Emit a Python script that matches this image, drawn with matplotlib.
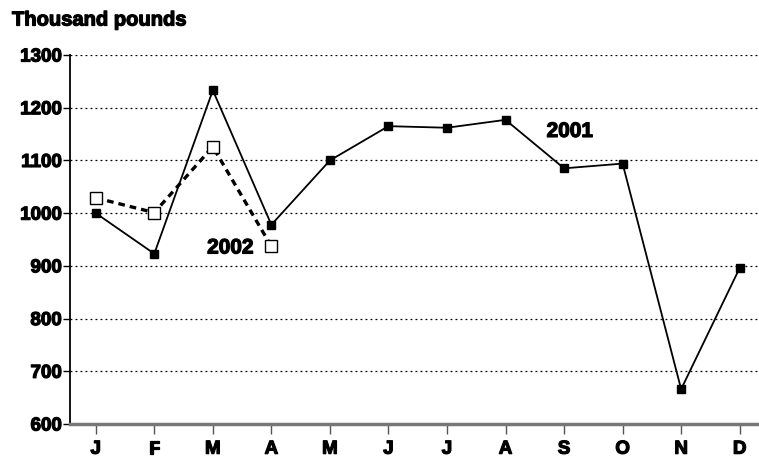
import matplotlib
matplotlib.use("Agg")
import matplotlib.pyplot as plt
import matplotlib.patheffects as pe
import numpy as np

plt.rcParams['font.family'] = ['Liberation Sans', 'DejaVu Sans']
plt.rcParams['font.weight'] = 'bold'

months = ['J', 'F', 'M', 'A', 'M', 'J', 'J', 'A', 'S', 'O', 'N', 'D']
sales_2001 = [1000, 923, 1233, 978, 1100, 1165, 1162, 1177, 1085, 1094, 666, 896]
sales_2002 = [1029, 1001, 1126, 937]
y_ticks = [600, 700, 800, 900, 1000, 1100, 1200, 1300]

heavy = [pe.withStroke(linewidth=0.9, foreground='black')]

fig = plt.figure(figsize=(7.59, 4.58), dpi=100)
ax = fig.add_axes([70/759, 1 - 424/458, 1 - 70/759, (424 - 55)/458])

x = np.arange(len(months))
ax.plot(x, sales_2001, color='black', lw=1.3, marker='s', markersize=6,
        markerfacecolor='black', zorder=3)
ax.plot(x[:len(sales_2002)], sales_2002, color='black', lw=2.4, ls=(0, (2, 1.5)),
        marker='s', markersize=9, markerfacecolor='white', markeredgewidth=1.0,
        zorder=4)

ax.text(8.1, 1155, '2001', fontsize=15, fontweight='bold', ha='center',
        va='center', path_effects=heavy)
ax.text(2.3, 934, '2002', fontsize=15, fontweight='bold', ha='center',
        va='center', path_effects=heavy)

ax.set_xlim(-0.44, 11.33)
ax.set_ylim(600, 1300)
ax.set_yticks(y_ticks)
ax.set_yticklabels([str(v) for v in y_ticks], fontsize=13.5, fontweight='bold')
ax.set_xticks(x)
ax.set_xticklabels(months, fontsize=13.5, fontweight='bold')
for lab in ax.get_xticklabels() + ax.get_yticklabels():
    lab.set_path_effects(heavy)
ax.tick_params(axis='x', length=7, width=1, pad=5, color='#555555')
ax.tick_params(axis='y', length=5, width=1, pad=1)

ax.grid(axis='y', color='black', ls=(0, (1.5, 2.5)), lw=0.9)
for s in ['top', 'right']:
    ax.spines[s].set_visible(False)
ax.spines['left'].set_linewidth(1.3)
ax.spines['bottom'].set_color('#777777')
ax.spines['bottom'].set_linewidth(2.5)

fig.text(12/759, 1 - 20/458, 'Thousand pounds', fontsize=14.5, fontweight='bold',
         ha='left', va='center', path_effects=heavy)

fig.savefig('out.png', dpi=100)
